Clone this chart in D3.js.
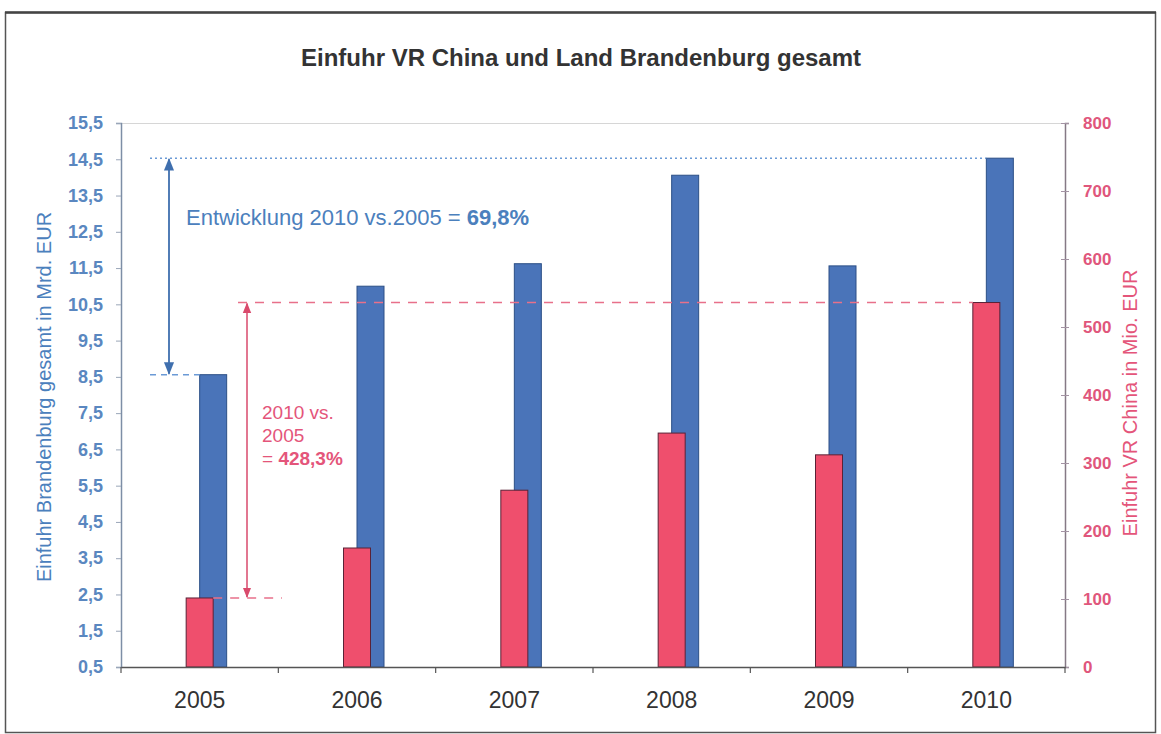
<!DOCTYPE html>
<html lang="de">
<head>
<meta charset="utf-8">
<title>Einfuhr VR China und Land Brandenburg gesamt</title>
<script src="https://cdn.jsdelivr.net/npm/d3@7"></script>
<style>
  html, body { margin: 0; padding: 0; background: #ffffff; }
  svg { display: block; font-family: "Liberation Sans", Arial, sans-serif; }
</style>
</head>
<body>
<svg id="chart" width="1161" height="734"></svg>
<script>
// Jahre und Werte
const years = ["2005", "2006", "2007", "2008", "2009", "2010"];
// Einfuhr Land Brandenburg gesamt, Mrd. EUR (linke Achse)
const brandenburg = [8.56, 11.0, 11.62, 14.06, 11.56, 14.53];
// Einfuhr aus der VR China, Mio. EUR (rechte Achse)
const china = [101.5, 175, 260, 344, 312, 536];
// Achsenbeschriftungen
const leftTicks = [0.5, 1.5, 2.5, 3.5, 4.5, 5.5, 6.5, 7.5, 8.5, 9.5, 10.5, 11.5, 12.5, 13.5, 14.5, 15.5];
const rightTicks = [0, 100, 200, 300, 400, 500, 600, 700, 800];

const W = 1161, H = 734;
const plot = { left: 121, right: 1065, top: 123, bottom: 667 };

const blue = "#4a74b9", blueStroke = "#2c4f86", blueText = "#4b80bd";
const red = "#ef4f6d", redStroke = "#5a2236", redText = "#e4557a";

const svg = d3.select("#chart");

// Rahmen
svg.append("rect")
  .attr("x", 5.5).attr("y", 12.5)
  .attr("width", W - 11).attr("height", H - 14)
  .attr("fill", "none").attr("stroke", "#555").attr("stroke-width", 1.5);
svg.append("line")
  .attr("x1", 5).attr("x2", W - 5).attr("y1", 12.5).attr("y2", 12.5)
  .attr("stroke", "#444").attr("stroke-width", 2.5);

// Titel
svg.append("text")
  .attr("x", 581).attr("y", 66)
  .attr("text-anchor", "middle")
  .attr("font-size", 24).attr("font-weight", "bold")
  .attr("fill", "#333")
  .text("Einfuhr VR China und Land Brandenburg gesamt");

const x = d3.scaleBand().domain(years).range([plot.left, plot.right]).padding(0);
const yL = d3.scaleLinear().domain([0.5, 15.5]).range([plot.bottom, plot.top]);
const yR = d3.scaleLinear().domain([0, 800]).range([plot.bottom, plot.top]);
const barW = 27;
const cx = d => x(d) + x.bandwidth() / 2;
const fmtComma = d => d3.format(".1f")(d).replace(".", ",");

// obere Begrenzung der Zeichenfläche
svg.append("line")
  .attr("x1", plot.left).attr("x2", plot.right)
  .attr("y1", plot.top + 0.5).attr("y2", plot.top + 0.5)
  .attr("stroke", "#d6d6d6").attr("stroke-width", 1);

// Balken Brandenburg (hinten, nach rechts versetzt)
svg.append("g").selectAll("rect")
  .data(years.map((y, i) => ({ y, v: brandenburg[i] })))
  .join("rect")
  .attr("x", d => cx(d.y))
  .attr("y", d => yL(d.v))
  .attr("width", barW)
  .attr("height", d => yL(0.5) - yL(d.v))
  .attr("fill", blue).attr("stroke", blueStroke).attr("stroke-width", 1);

// Balken VR China (vorne, mittig)
svg.append("g").selectAll("rect")
  .data(years.map((y, i) => ({ y, v: china[i] })))
  .join("rect")
  .attr("x", d => cx(d.y) - barW / 2)
  .attr("y", d => yR(d.v))
  .attr("width", barW)
  .attr("height", d => yR(0) - yR(d.v))
  .attr("fill", red).attr("stroke", redStroke).attr("stroke-width", 1);

// Hilfslinien Brandenburg
const b05 = brandenburg[0], b10 = brandenburg[5];
svg.append("line")
  .attr("x1", 150).attr("x2", cx("2010"))
  .attr("y1", yL(b10)).attr("y2", yL(b10))
  .attr("stroke", "#6b9ad6").attr("stroke-width", 1.5)
  .attr("stroke-dasharray", "2,3");
svg.append("line")
  .attr("x1", 150).attr("x2", cx("2005"))
  .attr("y1", yL(b05)).attr("y2", yL(b05))
  .attr("stroke", "#6b9ad6").attr("stroke-width", 1.5)
  .attr("stroke-dasharray", "6,5");

// Hilfslinien VR China
const c05 = china[0], c10 = china[5];
svg.append("line")
  .attr("x1", 238).attr("x2", cx("2010") - barW / 2)
  .attr("y1", yR(c10)).attr("y2", yR(c10))
  .attr("stroke", "#e8708a").attr("stroke-width", 1.5)
  .attr("stroke-dasharray", "9,8");
svg.append("line")
  .attr("x1", cx("2005") + barW / 2).attr("x2", 282)
  .attr("y1", yR(c05)).attr("y2", yR(c05))
  .attr("stroke", "#e8708a").attr("stroke-width", 1.5)
  .attr("stroke-dasharray", "9,8");

// Doppelpfeile
const defs = svg.append("defs");
function marker(id, color, orient) {
  defs.append("marker")
    .attr("id", id).attr("viewBox", "0 0 10 10")
    .attr("refX", 9).attr("refY", 5)
    .attr("markerWidth", 7).attr("markerHeight", 7)
    .attr("orient", orient)
    .append("path").attr("d", "M0,1L10,5L0,9Z").attr("fill", color);
}
marker("ab", "#3f6fae", "auto-start-reverse");
marker("ar", "#d94a6c", "auto-start-reverse");

svg.append("line")
  .attr("x1", 169).attr("x2", 169)
  .attr("y1", yL(b10) + 1).attr("y2", yL(b05) - 1)
  .attr("stroke", "#3f6fae").attr("stroke-width", 1.8)
  .attr("marker-start", "url(#ab)").attr("marker-end", "url(#ab)");

svg.append("line")
  .attr("x1", 247).attr("x2", 247)
  .attr("y1", yR(c10) + 1).attr("y2", yR(c05) - 1)
  .attr("stroke", "#d94a6c").attr("stroke-width", 1.5)
  .attr("marker-start", "url(#ar)").attr("marker-end", "url(#ar)");

// Beschriftung Entwicklung Brandenburg
const t1 = svg.append("text")
  .attr("x", 186).attr("y", 225)
  .attr("font-size", 22).attr("fill", blueText);
t1.append("tspan").text("Entwicklung 2010 vs.2005 = ");
t1.append("tspan").attr("font-weight", "bold").text("69,8%");

// Beschriftung Entwicklung VR China
const t2 = svg.append("text").attr("font-size", 19).attr("fill", redText);
t2.append("tspan").attr("x", 262).attr("y", 419).text("2010 vs.");
t2.append("tspan").attr("x", 262).attr("y", 442).text("2005");
const t2c = t2.append("tspan").attr("x", 262).attr("y", 465);
t2c.text("= ");
t2.append("tspan").attr("font-weight", "bold").text("428,3%");

// linke Achse
const gL = svg.append("g")
  .attr("transform", `translate(${plot.left},0)`)
  .call(d3.axisLeft(yL).tickValues(leftTicks).tickFormat(fmtComma)
    .tickSize(5).tickPadding(13));
gL.select(".domain").attr("stroke", "#7d8ea6").attr("stroke-width", 1.5);
gL.selectAll(".tick line").attr("stroke", "#9aa6b8");
gL.selectAll(".tick text")
  .attr("font-size", 18).attr("font-weight", "bold")
  .attr("fill", "#5a87c0")
  .attr("font-family", "'Liberation Sans', Arial, sans-serif");

// rechte Achse
const gR = svg.append("g")
  .attr("transform", `translate(${plot.right},0)`)
  .call(d3.axisRight(yR).tickValues(rightTicks).tickFormat(d3.format("d"))
    .tickSize(4).tickPadding(14));
gR.select(".domain").attr("stroke", "#857985").attr("stroke-width", 1.5);
gR.selectAll(".tick line").attr("x1", -4).attr("stroke", "#a393a3");
gR.selectAll(".tick text")
  .attr("font-size", 17).attr("font-weight", "bold")
  .attr("fill", "#e0567c")
  .attr("font-family", "'Liberation Sans', Arial, sans-serif");

// x-Achse
const gX = svg.append("g")
  .attr("transform", `translate(0,${plot.bottom})`)
  .call(d3.axisBottom(x).tickSize(0).tickPadding(25));
gX.select(".domain").attr("stroke", "#555").attr("stroke-width", 1.5);
gX.selectAll(".tick text")
  .attr("font-size", 23).attr("fill", "#333")
  .attr("font-family", "'Liberation Sans', Arial, sans-serif");
// Teilstriche an den Kategoriegrenzen
gX.selectAll(".sep")
  .data(years.concat(["end"]))
  .join("line")
  .attr("class", "sep")
  .attr("x1", d => d === "end" ? plot.right : x(d))
  .attr("x2", d => d === "end" ? plot.right : x(d))
  .attr("y1", 0).attr("y2", 6)
  .attr("stroke", "#555").attr("stroke-width", 1.2);

// Achsentitel
svg.append("text")
  .attr("transform", "translate(51,397) rotate(-90)")
  .attr("text-anchor", "middle")
  .attr("font-size", 20).attr("fill", blueText)
  .text("Einfuhr Brandenburg gesamt in Mrd. EUR");
svg.append("text")
  .attr("transform", "translate(1137,403) rotate(-90)")
  .attr("text-anchor", "middle")
  .attr("font-size", 20).attr("fill", redText)
  .text("Einfuhr VR China in Mio. EUR");
</script>
</body>
</html>
